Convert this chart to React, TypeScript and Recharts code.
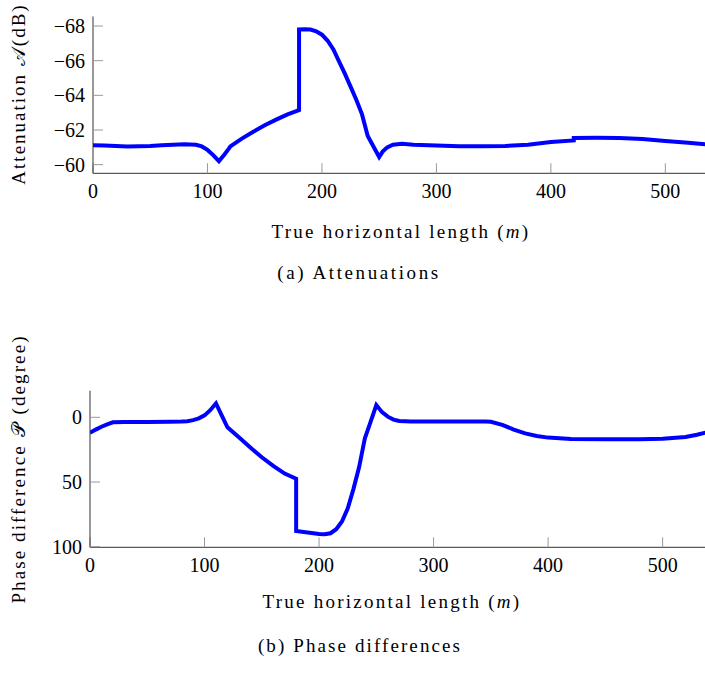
import React from 'react';
import { LineChart, Line, XAxis, YAxis } from 'recharts';

// ---- Data: (a) Attenuations ----
const attenLength = [
  0, 10, 20, 30, 40, 50, 60, 70, 80, 90, 95, 100, 105, 110, 115, 119, 120, 130, 140, 150, 160, 170, 180,
  180, 185, 190, 195, 200, 205, 210, 215, 220, 225, 230, 235, 240, 245, 250, 253, 257, 262, 270, 280,
  300, 320, 340, 360, 380, 400, 420, 420, 440, 460, 480, 500, 520, 539,
];
const attenValue = [
  -61.12, -61.1, -61.08, -61.05, -61.06, -61.08, -61.12, -61.15, -61.17, -61.15, -61.05, -60.85, -60.55,
  -60.2, -60.6, -60.95, -61.05, -61.5, -61.9, -62.27, -62.6, -62.9, -63.15,
  -67.8, -67.82, -67.8, -67.7, -67.5, -67.15, -66.65, -65.95, -65.25, -64.5, -63.75, -62.9, -61.65,
  -61.05, -60.44, -60.75, -61.0, -61.15, -61.2, -61.15,
  -61.1, -61.06, -61.06, -61.08, -61.15, -61.3, -61.4, -61.54, -61.55, -61.54, -61.48, -61.36, -61.26,
  -61.15,
];

// ---- Data: (b) Phase differences ----
const phaseLength = [
  0, 5, 10, 15, 20, 30, 50, 70, 80, 85, 90, 95, 100, 105, 110, 115, 120, 130, 140, 150, 160, 170, 180,
  180, 190, 200, 205, 210, 215, 220, 225, 230, 235, 240, 245, 250, 255, 260, 265, 270, 280,
  300, 320, 345, 350, 360, 370, 380, 390, 400, 420, 450, 480, 500, 520, 530, 539,
];
const phaseValue = [
  11.9, 9.5, 7.3, 5.5, 3.9, 3.7, 3.6, 3.5, 3.3, 3.0, 2.2, 0.8, -1.5, -5.5, -10.8, -1.5, 7.7, 15.5, 23.3,
  30.9, 37.5, 43.5, 47.5,
  87.9, 89.0, 90.2, 90.4, 89.6, 86.5, 80.5, 70.5, 55.5, 38.5, 16.2, 3.5, -9.5, -4.0, -0.5, 1.8, 2.9, 3.3,
  3.2, 3.3, 3.2, 3.5, 5.8, 9.5, 12.4, 14.5, 15.7, 16.8, 17.0, 16.9, 16.6, 15.2, 13.5, 11.5,
];

const xTicks = [0, 100, 200, 300, 400, 500];
const attenTicks = [-68, -66, -64, -62, -60];
const phaseTicks = [0, 50, 100];

const xLabel = 'True horizontal length';
const attenYLabel = 'Attenuation';
const phaseYLabel = 'Phase difference';
const captionA = '(a) Attenuations';
const captionB = '(b) Phase differences';

const attenData = attenLength.map((x, i) => ({ x, y: attenValue[i] }));
const phaseData = phaseLength.map((x, i) => ({ x, y: phaseValue[i] }));

const FONT = '"Liberation Serif", "DejaVu Serif", serif';
const TICK_FS = 20;
const FS = 19;
const fmt = (v: number) => String(v).replace('-', '\u2212');

type PanelProps = {
  data: { x: number; y: number }[];
  top: number;
  marginTop: number;
  marginRight: number;
  marginBottom: number;
  yWidth: number;
  yDomain: [number, number];
  yTicks: number[];
};

function Panel({ data, top, marginTop, marginRight, marginBottom, yWidth, yDomain, yTicks }: PanelProps) {
  const tickStyle = { fill: '#000', fontSize: TICK_FS, fontFamily: FONT };
  const tl = { stroke: '#999', strokeWidth: 1 };
  const al = { stroke: '#333', strokeWidth: 1 };
  return (
    <div style={{ position: 'absolute', left: 0, top }}>
      <LineChart
        width={720}
        height={215}
        data={data}
        margin={{ top: marginTop, right: marginRight, bottom: marginBottom, left: 0 }}
      >
        <XAxis
          xAxisId="b"
          dataKey="x"
          type="number"
          domain={[0, 539]}
          ticks={xTicks}
          interval={0}
          allowDataOverflow
          height={30}
          tickSize={-10}
          tickMargin={20}
          tickLine={tl}
          axisLine={al}
          tick={tickStyle}
        />
        <XAxis
          xAxisId="t"
          orientation="top"
          dataKey="x"
          type="number"
          domain={[0, 539]}
          ticks={xTicks}
          interval={0}
          allowDataOverflow
          height={0}
          tickSize={-10}
          tickLine={tl}
          axisLine={al}
          tick={false}
        />
        <YAxis
          yAxisId="l"
          type="number"
          domain={yDomain}
          ticks={yTicks}
          interval={0}
          reversed
          allowDataOverflow
          width={yWidth}
          tickSize={-10}
          tickMargin={18}
          tickLine={tl}
          axisLine={al}
          tick={tickStyle}
          tickFormatter={fmt}
        />
        <YAxis
          yAxisId="r"
          orientation="right"
          type="number"
          domain={yDomain}
          ticks={yTicks}
          interval={0}
          reversed
          allowDataOverflow
          width={0}
          tickSize={-10}
          tickLine={tl}
          axisLine={al}
          tick={false}
        />
        <Line
          xAxisId="b"
          yAxisId="l"
          dataKey="y"
          type="linear"
          stroke="#0000ff"
          strokeWidth={4}
          dot={false}
          activeDot={false}
          isAnimationActive={false}
        />
      </LineChart>
    </div>
  );
}

const textBase: React.CSSProperties = {
  position: 'absolute',
  fontFamily: FONT,
  fontSize: FS,
  color: '#000',
  whiteSpace: 'nowrap',
  lineHeight: 1,
};

function Centered({
  x,
  y,
  rotate,
  spacing,
  children,
}: {
  x: number;
  y: number;
  rotate?: boolean;
  spacing: number;
  children: React.ReactNode;
}) {
  return (
    <div
      style={{
        ...textBase,
        letterSpacing: spacing,
        left: x,
        top: y,
        transform: `translate(-50%, -50%)${rotate ? ' rotate(-90deg)' : ''}`,
      }}
    >
      {children}
    </div>
  );
}

export default function App() {
  return (
    <div
      style={{
        position: 'absolute',
        left: 0,
        top: 0,
        width: 705,
        height: 673,
        overflow: 'hidden',
        background: '#fff',
      }}
    >
      <Panel
        data={attenData}
        top={0}
        marginTop={16.5}
        marginRight={10}
        marginBottom={11.7}
        yWidth={93}
        yDomain={[-68.55, -59.5]}
        yTicks={attenTicks}
      />
      <Panel
        data={phaseData}
        top={370}
        marginTop={20.7}
        marginRight={12.7}
        marginBottom={7.7}
        yWidth={90}
        yDomain={[-20.56, 100.46]}
        yTicks={phaseTicks}
      />
      <Centered x={18} y={94} rotate spacing={2}>
        {attenYLabel} <span>𝒜</span>(dB)
      </Centered>
      <Centered x={401} y={231} spacing={2.25}>
        {xLabel} (<span style={{ fontStyle: 'italic' }}>m</span>)
      </Centered>
      <Centered x={359} y={272} spacing={2.6}>
        {captionA}
      </Centered>
      <Centered x={18} y={469} rotate spacing={2.1}>
        {phaseYLabel} <span>𝒫</span> (degree)
      </Centered>
      <Centered x={392} y={601} spacing={2.25}>
        {xLabel} (<span style={{ fontStyle: 'italic' }}>m</span>)
      </Centered>
      <Centered x={360} y={645} spacing={2.1}>
        {captionB}
      </Centered>
    </div>
  );
}
